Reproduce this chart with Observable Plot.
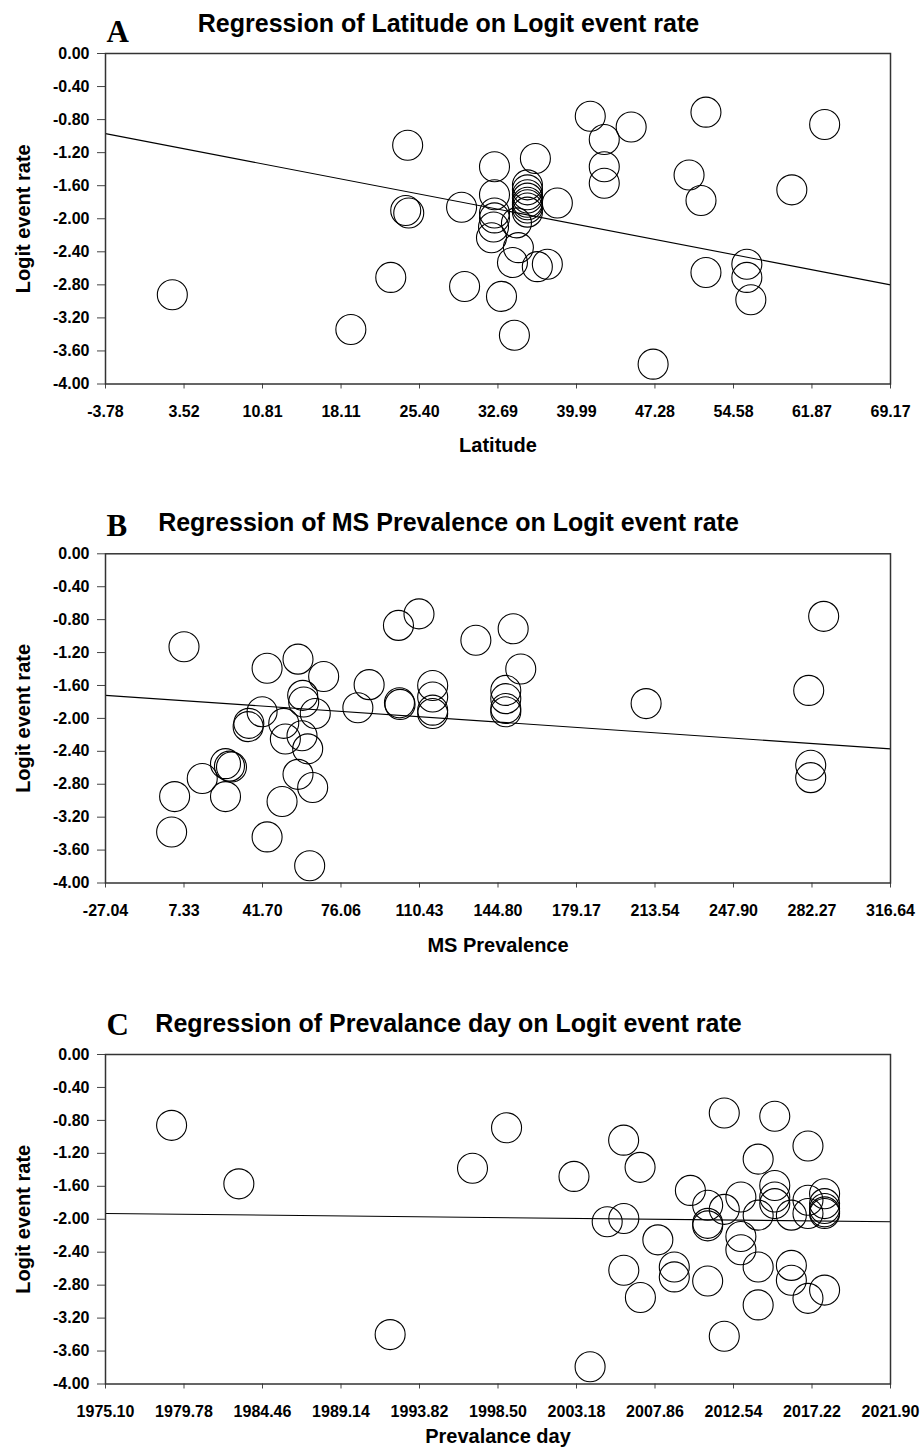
<!DOCTYPE html>
<html>
<head>
<meta charset="utf-8">
<script src="https://cdn.jsdelivr.net/npm/d3@7"></script>
<script src="https://cdn.jsdelivr.net/npm/@observablehq/plot@0.6"></script>
<style>
  body { margin: 0; background: #fff; }
  #wrap { position: relative; width: 921px; height: 1456px; background: #fff; }
  #wrap svg { position: absolute; left: 0; }
</style>
</head>
<body>
<div id="wrap"></div>
<script>
// ---------- shared ----------
const yTicks = [0.00, -0.40, -0.80, -1.20, -1.60, -2.00, -2.40, -2.80, -3.20, -3.60, -4.00];
const yLabel = "Logit event rate";

// ---------- Panel A: Latitude ----------
const titleA = "Regression of Latitude on Logit event rate";
const xLabelA = "Latitude";
const xTicksA = [-3.78, 3.52, 10.81, 18.11, 25.40, 32.69, 39.99, 47.28, 54.58, 61.87, 69.17];
const latitudeA = [2.43, 19.02, 22.73, 24.12, 24.40, 24.30, 29.31, 29.59, 32.37, 32.37, 32.37, 32.37,
  32.28, 32.09, 33.02, 34.04, 34.59, 34.41, 34.22, 35.43, 35.43, 35.43, 35.43, 35.43, 35.43, 35.43, 35.43,
  36.17, 36.35, 37.28, 38.21, 41.27, 42.57, 42.57, 42.57, 45.07, 47.11, 50.45, 51.56, 52.02, 52.02,
  55.82, 55.82, 56.19, 60.00, 63.05];
const logitA = [-2.92, -3.34, -2.71, -1.90, -1.93, -1.11, -1.86, -2.82, -1.37, -1.71, -1.93, -1.99,
  -2.10, -2.23, -2.94, -2.53, -2.35, -2.05, -3.41, -1.59, -1.65, -1.71, -1.75, -1.80, -1.83, -1.87, -1.92,
  -1.27, -2.58, -2.55, -1.81, -0.76, -1.04, -1.37, -1.57, -0.89, -3.76, -1.47, -1.78, -0.71, -2.65,
  -2.55, -2.71, -2.98, -1.65, -0.86];
const fitXA = [-3.78, 69.17];
const fitYA = [-0.97, -2.80];

// ---------- Panel B: MS Prevalence ----------
const titleB = "Regression of MS Prevalence on Logit event rate";
const xLabelB = "MS Prevalence";
const xTicksB = [-27.04, 7.33, 41.70, 76.06, 110.43, 144.80, 179.17, 213.54, 247.90, 282.27, 316.64];
const prevalenceB = [7.33, 43.71, 57.24, 68.47, 59.29, 59.73, 64.80, 41.52, 35.71, 35.41,
  51.00, 51.70, 58.99, 61.48, 25.50, 27.24, 28.12, 15.32, 3.22, 25.50,
  57.24, 63.66, 50.26, 1.91, 43.71, 62.35, 101.22, 110.21, 135.11, 151.44,
  88.38, 83.45, 101.66, 101.92, 116.20, 116.20, 116.20, 116.20, 148.21, 148.21,
  148.21, 148.21, 154.76, 209.65, 280.83, 287.38, 281.71, 281.71];
const logitB = [-1.13, -1.39, -1.28, -1.49, -1.72, -1.80, -1.94, -1.92, -2.06, -2.10,
  -2.06, -2.25, -2.21, -2.37, -2.55, -2.58, -2.59, -2.73, -2.95, -2.95,
  -2.68, -2.84, -3.01, -3.38, -3.44, -3.79, -0.87, -0.73, -1.05, -0.91,
  -1.59, -1.87, -1.81, -1.83, -1.60, -1.74, -1.90, -1.94, -1.66, -1.76,
  -1.88, -1.92, -1.40, -1.82, -1.66, -0.76, -2.57, -2.72];
const fitXB = [-27.04, 316.64];
const fitYB = [-1.72, -2.37];

// ---------- Panel C: Prevalance day ----------
const titleC = "Regression of Prevalance day on Logit event rate";
const xLabelC = "Prevalance day";
const xTicksC = [1975.10, 1979.78, 1984.46, 1989.14, 1993.82, 1998.50, 2003.18, 2007.86, 2012.54, 2017.22, 2021.90];
const dayC = [1979.04, 1983.05, 1992.07, 1996.98, 1999.01, 2003.03, 2003.99, 2005.01, 2006.00, 2006.00,
  2005.99, 2006.97, 2006.99, 2008.03, 2009.01, 2009.01, 2009.97, 2011.00, 2011.00, 2011.00,
  2011.00, 2011.99, 2011.99, 2011.99, 2012.98, 2012.98, 2012.98, 2014.01, 2014.01, 2014.01,
  2014.01, 2015.00, 2015.00, 2015.00, 2015.00, 2015.99, 2015.99, 2015.99, 2016.98, 2016.98,
  2016.98, 2016.98, 2017.97, 2017.97, 2017.97, 2017.97, 2017.97, 2017.97];
const logitC = [-0.86, -1.57, -3.40, -1.38, -0.89, -1.48, -3.79, -2.03, -1.99, -2.62,
  -1.04, -1.37, -2.95, -2.25, -2.58, -2.70, -1.65, -1.83, -2.05, -2.08,
  -2.75, -0.71, -1.88, -3.42, -1.73, -2.21, -2.37, -1.27, -1.95, -2.58,
  -3.04, -0.75, -1.59, -1.73, -1.81, -1.95, -2.56, -2.74, -1.11, -1.77,
  -1.93, -2.96, -1.69, -1.81, -1.87, -1.91, -1.93, -2.86];
const fitXC = [1975.10, 2021.90];
const fitYC = [-1.93, -2.03];

// ---------- layout (per panel) ----------
const panels = [
  {letter: "A", title: titleA, xLabel: xLabelA, xTicks: xTicksA, xs: latitudeA, ys: logitA, fx: fitXA, fy: fitYA,
   top: 0, height: 490, marginTop: 53, marginBottom: 106.5, titleDy: -22, letterDy: -12, xLabelDy: 68},
  {letter: "B", title: titleB, xLabel: xLabelB, xTicks: xTicksB, xs: prevalenceB, ys: logitB, fx: fitXB, fy: fitYB,
   top: 490, height: 500, marginTop: 63.3, marginBottom: 107.5, titleDy: -23.3, letterDy: -18.3, xLabelDy: 68.5},
  {letter: "C", title: titleC, xLabel: xLabelC, xTicks: xTicksC, xs: dayC, ys: logitC, fx: fitXC, fy: fitYC,
   top: 990, height: 466, marginTop: 64, marginBottom: 72.5, titleDy: -23, letterDy: -20, xLabelDy: 58.5}
];

const sans = "'Liberation Sans', Arial, Helvetica, sans-serif";
const serif = "'Liberation Serif', 'Times New Roman', Times, serif";
const fmt = d => (+d).toFixed(2);
const wrap = document.getElementById("wrap");

for (const p of panels) {
  const pts = p.xs.map((x, i) => ({x, y: p.ys[i]}));
  const fit = p.fx.map((x, i) => ({x, y: p.fy[i]}));
  const chart = Plot.plot({
    width: 921,
    height: p.height,
    marginLeft: 105,
    marginRight: 31,
    marginTop: p.marginTop,
    marginBottom: p.marginBottom,
    style: {fontFamily: sans, fontSize: "16px", fontWeight: "bold", color: "#000", background: "#fff", overflow: "visible"},
    x: {domain: [p.xTicks[0], p.xTicks[p.xTicks.length - 1]]},
    y: {domain: [-4, 0]},
    marks: [
      Plot.axisX({ticks: p.xTicks, tickFormat: fmt, tickSize: 5, tickPadding: 17, label: null, stroke: "#444", fontSize: 16}),
      Plot.axisY({ticks: yTicks, tickFormat: fmt, tickSize: 8, tickPadding: 8, label: null, stroke: "#444", fontSize: 16}),
      Plot.line(fit, {x: "x", y: "y", stroke: "#000", strokeWidth: 1.1}),
      Plot.dot(pts, {x: "x", y: "y", r: 15, stroke: "#000", strokeWidth: 1.1, fill: "none"}),
      Plot.frame({stroke: "#333", strokeWidth: 1.5}),
      Plot.text([p.title], {text: d => d, frameAnchor: "top", dx: -49.5, dy: p.titleDy, lineAnchor: "bottom",
        fontSize: 25, fontWeight: "bold", fontFamily: sans, fill: "#000"}),
      Plot.text([p.letter], {text: d => d, frameAnchor: "top-left", textAnchor: "start", dx: 1, dy: p.letterDy, lineAnchor: "bottom",
        fontSize: 31, fontWeight: "bold", fontFamily: serif, fill: "#000"}),
      Plot.text([p.xLabel], {text: d => d, frameAnchor: "bottom", dy: p.xLabelDy, lineAnchor: "bottom",
        fontSize: 20, fontWeight: "bold", fontFamily: sans, fill: "#000"}),
      Plot.text([yLabel], {text: d => d, frameAnchor: "left", textAnchor: "middle", dx: -82, rotate: -90, lineAnchor: "middle",
        fontSize: 20, fontWeight: "bold", fontFamily: sans, fill: "#000", letterSpacing: "1px"})
    ]
  });
  chart.style.top = p.top + "px";
  wrap.appendChild(chart);
}
</script>
</body>
</html>
